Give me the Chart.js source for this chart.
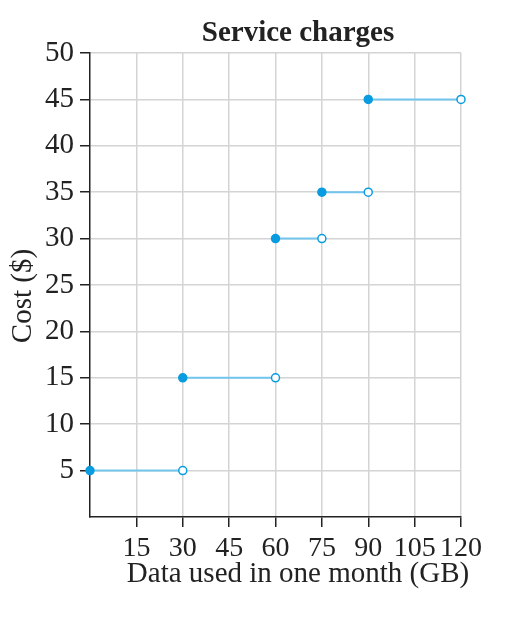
<!DOCTYPE html>
<html>
<head>
<meta charset="utf-8">
<script src="https://cdn.jsdelivr.net/npm/chart.js@4"></script>
<style>
  html, body { margin: 0; padding: 0; background: #fff; }
  #wrap { width: 522px; height: 630px; }
</style>
</head>
<body>
<div id="wrap"><canvas id="chart" width="522" height="630"></canvas></div>
<script>
// Service charges — step function, closed dot at start, open dot at end
const segStart = [0, 30, 60, 75, 90];
const segEnd = [30, 60, 75, 90, 120];
const costs = [5, 15, 30, 35, 45];
const xTicks = [15, 30, 45, 60, 75, 90, 105, 120];
const yTicks = [5, 10, 15, 20, 25, 30, 35, 40, 45, 50];

const SERIF = '"Liberation Serif", "DejaVu Serif", serif';
const LINE = '#72c6ee';
const DOT = '#0a9ce0';

const datasets = costs.map((c, i) => ({
    data: [{ x: segStart[i], y: c }, { x: segEnd[i], y: c }],
    borderColor: LINE,
    borderWidth: 2,
    pointRadius: 4,
    pointBorderWidth: 1.5,
    pointBorderColor: DOT,
    pointBackgroundColor: [DOT, '#ffffff'],
    showLine: true,
    clip: false
}));

const textPlugin = {
    id: 'texts',
    afterDraw(chart) {
        const ctx = chart.ctx;
        ctx.save();
        ctx.fillStyle = '#222';
        ctx.textAlign = 'center';
        ctx.textBaseline = 'middle';
        ctx.font = 'bold 29px ' + SERIF;
        ctx.fillText('Service charges', 298, 34);
        ctx.font = '29px ' + SERIF;
        ctx.fillText('Data used in one month (GB)', 298, 574);
        ctx.translate(23, 296);
        ctx.rotate(-Math.PI / 2);
        ctx.fillText('Cost ($)', 0, 0);
        ctx.restore();
    }
};

new Chart(document.getElementById('chart'), {
    type: 'scatter',
    data: { datasets },
    options: {
        responsive: false,
        animation: false,
        layout: { padding: { top: 53, right: 61, left: 0, bottom: 0 } },
        plugins: { legend: { display: false }, tooltip: { enabled: false } },
        scales: {
            x: {
                type: 'linear', min: 0, max: 120,
                afterBuildTicks: s => { s.ticks = xTicks.map(v => ({ value: v })); },
                afterFit: s => { s.height = 113; },
                grid: { color: '#d4d4d4', lineWidth: 1.5, tickLength: 10, tickColor: '#222', tickWidth: 1.5 },
                border: { color: '#222', width: 1.5 },
                ticks: { color: '#222', font: { family: SERIF, size: 28 }, padding: 5, maxRotation: 0, autoSkip: false }
            },
            y: {
                type: 'linear', min: 0, max: 50,
                afterBuildTicks: s => { s.ticks = yTicks.map(v => ({ value: v })); },
                afterFit: s => { s.width = 90; },
                grid: { color: '#d4d4d4', lineWidth: 1.5, tickLength: 10, tickColor: '#222', tickWidth: 1.5 },
                border: { color: '#222', width: 1.5 },
                ticks: { color: '#222', font: { family: SERIF, size: 29 }, padding: 6, autoSkip: false }
            }
        }
    },
    plugins: [textPlugin]
});
</script>
</body>
</html>
